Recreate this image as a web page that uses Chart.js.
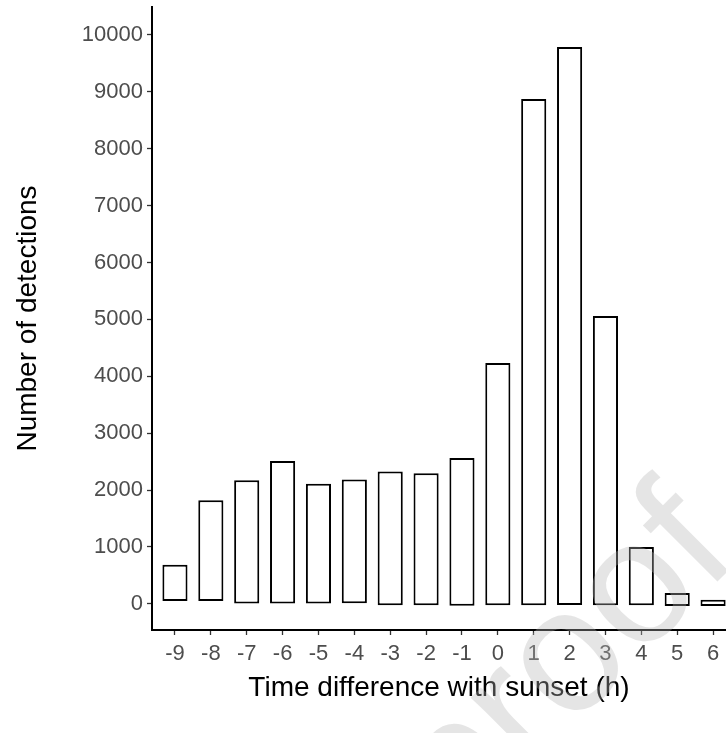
<!DOCTYPE html>
<html>
<head>
<meta charset="utf-8">
<script src="https://cdn.jsdelivr.net/npm/chart.js@4"></script>
<style>
  html, body { margin: 0; padding: 0; background: #fff; overflow: hidden; }
  #wrap { width: 726px; height: 733px; }
</style>
</head>
<body>
<div id="wrap"><canvas id="detChart" width="726" height="733"></canvas></div>
<script>
// hours relative to sunset
const hours = [-9, -8, -7, -6, -5, -4, -3, -2, -1, 0, 1, 2, 3, 4, 5, 6];
// bar bottoms and tops (number of detections)
const barBase = [50, 50, 5, 5, 5, 0, -25, -25, -35, -25, -25, -20, -25, -25, -40, -40];
const detections = [685, 1820, 2170, 2510, 2110, 2185, 2325, 2295, 2565, 4235, 8875, 9785, 5060, 1000, 190, 70];
const yTicks = [0, 1000, 2000, 3000, 4000, 5000, 6000, 7000, 8000, 9000, 10000];

const FONT = "'Liberation Sans', Arial, sans-serif";

// faint watermark across the lower right
const watermark = {
  id: 'watermark',
  afterDraw(c) {
    const ctx = c.ctx;
    ctx.save();
    ctx.translate(741, 558);
    ctx.rotate(-45 * Math.PI / 180);
    ctx.font = "175px " + FONT;
    ctx.textAlign = 'right';
    ctx.textBaseline = 'alphabetic';
    ctx.fillStyle = 'rgba(180,180,180,0.35)';
    ctx.fillText('Journal Pre-proof', 0, 0);
    ctx.restore();
  }
};

const ctx = document.getElementById('detChart').getContext('2d');
const chart = new Chart(ctx, {
  type: 'bar',
  data: {
    datasets: [{
      data: hours.map((h, i) => ({ x: h, y: [barBase[i], detections[i]] })),
      backgroundColor: '#ffffff',
      borderColor: '#000000',
      borderWidth: 2,
      borderSkipped: false,
      barPercentage: 0.7,
      categoryPercentage: 1
    }]
  },
  options: {
    responsive: false,
    animation: false,
    layout: { padding: { top: 7, right: 0, left: 0, bottom: 0 } },
    plugins: { legend: { display: false }, tooltip: { enabled: false } },
    scales: {
      x: {
        type: 'linear',
        offset: false,
        min: -9.64,
        max: 6.36,
        afterBuildTicks: s => { s.ticks = hours.map(v => ({ value: v })); },
        afterFit: s => { s.height = 103; s.paddingLeft = 0; s.paddingRight = 0; },
        grid: { display: true, offset: false, drawOnChartArea: false, tickLength: 5, tickColor: '#333', tickWidth: 1.3 },
        border: { display: true, color: '#000', width: 2 },
        ticks: { color: '#4d4d4d', font: { family: FONT, size: 22 }, padding: 6, maxRotation: 0,
                 callback: v => String(v) },
        title: { display: true, text: 'Time difference with sunset (h)', color: '#000',
                 font: { family: FONT, size: 28 }, padding: { top: 0, bottom: 28 } }
      },
      y: {
        min: -460,
        max: 10490,
        afterBuildTicks: s => { s.ticks = yTicks.map(v => ({ value: v })); },
        afterFit: s => { s.width = 152; s.paddingTop = 0; s.paddingBottom = 0; },
        grid: { display: true, drawOnChartArea: false, tickLength: 5, tickColor: '#333', tickWidth: 1.3 },
        border: { display: true, color: '#000', width: 2 },
        ticks: { color: '#4d4d4d', font: { family: FONT, size: 22 }, padding: 4,
                 callback: v => String(v) },
        title: { display: true, text: 'Number of detections', color: '#000',
                 font: { family: FONT, size: 28 }, padding: { top: 11, bottom: 0 } }
      }
    }
  },
  plugins: [watermark]
});
</script>
</body>
</html>
